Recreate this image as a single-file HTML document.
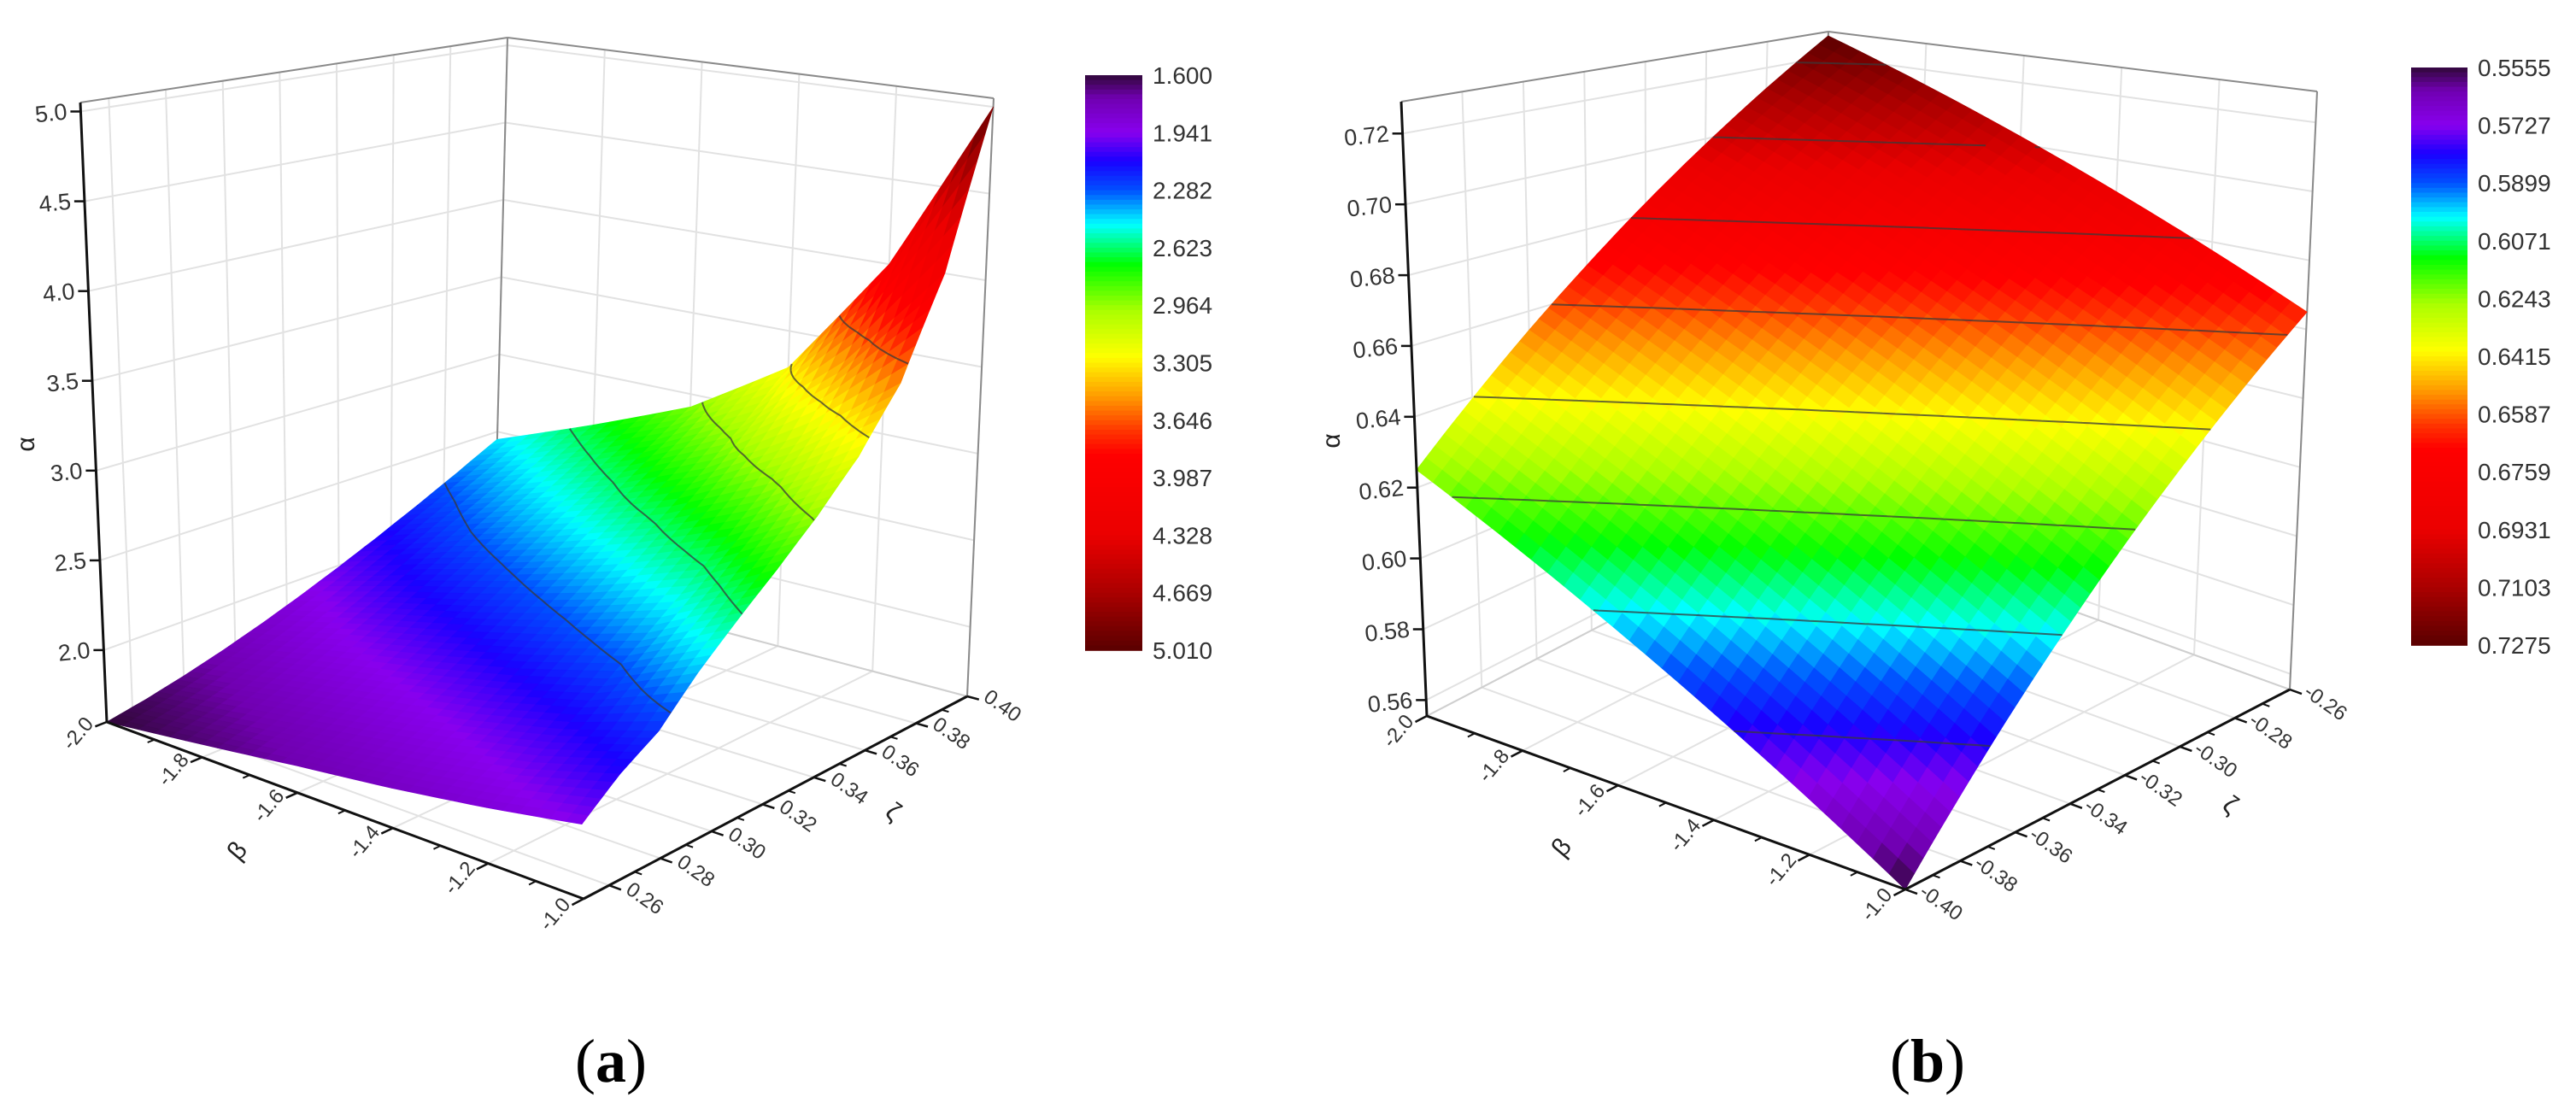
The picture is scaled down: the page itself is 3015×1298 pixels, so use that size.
<!DOCTYPE html>
<html><head><meta charset="utf-8"><style>
html,body{margin:0;padding:0;background:#fff;}
svg{display:block;}
text{font-family:"Liberation Sans",sans-serif;}
</style></head><body>
<svg id="fig" width="3015" height="1298" viewBox="0 0 3015 1298" xmlns="http://www.w3.org/2000/svg">
<g id="panelA"></g>
<g id="panelB"></g>
<text x="715" y="1266" text-anchor="middle" style="font-family:'Liberation Serif',serif;font-size:72px;">(<tspan font-weight="bold">a</tspan>)</text>
<text x="2256" y="1266" text-anchor="middle" style="font-family:'Liberation Serif',serif;font-size:72px;">(<tspan font-weight="bold">b</tspan>)</text>
</svg>
<script>
// ---------- Panel (a) data ----------
const betaA = [-2.0, -1.8, -1.6, -1.4, -1.2, -1.0];
const zetaA = [0.25, 0.265, 0.28, 0.295, 0.31, 0.325, 0.34, 0.355, 0.37, 0.385, 0.40];
const zA = [
  [1.60,1.64,1.69,1.75,1.82,1.90,1.99,2.09,2.20,2.32,2.45],
  [1.67,1.72,1.79,1.87,1.96,2.06,2.17,2.29,2.41,2.54,2.68],
  [1.74,1.80,1.88,1.97,2.08,2.20,2.33,2.47,2.61,2.76,2.92],
  [1.80,1.88,1.97,2.08,2.21,2.35,2.50,2.66,2.84,3.04,3.28],
  [1.87,1.97,2.08,2.21,2.36,2.52,2.70,2.90,3.15,3.50,4.00],
  [1.95,2.10,2.22,2.42,2.60,2.78,2.98,3.22,3.55,4.10,5.00]
];
const zTicksA = [2.0, 2.5, 3.0, 3.5, 4.0, 4.5, 5.0];
const zTickLabelsA = ["2.0","2.5","3.0","3.5","4.0","4.5","5.0"];
const bTicksA = [-2.0,-1.8,-1.6,-1.4,-1.2,-1.0];
const bTickLabelsA = ["-2.0","-1.8","-1.6","-1.4","-1.2","-1.0"];
const zetaTicksA = [0.26,0.28,0.30,0.32,0.34,0.36,0.38,0.40];
const zetaTickLabelsA = ["0.26","0.28","0.30","0.32","0.34","0.36","0.38","0.40"];
const contourLevelsA = [2.282, 2.623, 2.964, 3.305, 3.646];
const cbarLabelsA = ["1.600","1.941","2.282","2.623","2.964","3.305","3.646","3.987","4.328","4.669","5.010"];

// ---------- Panel (b) data ----------
const betaB = [-2.0, -1.8, -1.6, -1.4, -1.2, -1.0];
const zetaB = [-0.40, -0.38, -0.36, -0.34, -0.32, -0.30, -0.28, -0.26];
const zB = [
  [0.6250,0.6396,0.6543,0.6689,0.6836,0.6982,0.7129,0.7275],
  [0.6111,0.6259,0.6408,0.6556,0.6705,0.6853,0.7002,0.7150],
  [0.5972,0.6122,0.6273,0.6423,0.6574,0.6724,0.6875,0.7025],
  [0.5833,0.5985,0.6138,0.6290,0.6443,0.6595,0.6748,0.6900],
  [0.5694,0.5848,0.6003,0.6157,0.6312,0.6466,0.6621,0.6775],
  [0.5555,0.5711,0.5868,0.6024,0.6181,0.6337,0.6494,0.6650]
];
const zTicksB = [0.56,0.58,0.60,0.62,0.64,0.66,0.68,0.70,0.72];
const zTickLabelsB = ["0.56","0.58","0.60","0.62","0.64","0.66","0.68","0.70","0.72"];
const bTicksB = [-2.0,-1.8,-1.6,-1.4,-1.2,-1.0];
const bTickLabelsB = ["-2.0","-1.8","-1.6","-1.4","-1.2","-1.0"];
const zetaTicksB = [-0.40,-0.38,-0.36,-0.34,-0.32,-0.30,-0.28,-0.26];
const zetaTickLabelsB = ["-0.40","-0.38","-0.36","-0.34","-0.32","-0.30","-0.28","-0.26"];
const contourLevelsB = [0.58,0.60,0.62,0.64,0.66,0.68,0.70,0.72];
const cbarLabelsB = ["0.5555","0.5727","0.5899","0.6071","0.6243","0.6415","0.6587","0.6759","0.6931","0.7103","0.7275"];

const NS = "http://www.w3.org/2000/svg";
const STOPS = [[0,[48,8,56]],[0.04,[112,0,176]],[0.1,[136,0,238]],[0.15,[26,0,255]],[0.2,[0,80,255]],[0.26,[0,255,255]],[0.33,[0,255,0]],[0.41,[170,255,0]],[0.49,[255,255,0]],[0.56,[255,153,0]],[0.62,[255,51,0]],[0.66,[255,0,0]],[0.8,[235,0,0]],[0.9,[170,0,0]],[1,[90,0,0]]];
function cmap(t){
  t=Math.max(0,Math.min(1,t));
  for(let i=1;i<STOPS.length;i++){
    if(t<=STOPS[i][0]){
      const a=STOPS[i-1],b=STOPS[i],f=(t-a[0])/(b[0]-a[0]);
      const c=a[1].map((v,k)=>Math.round(v+(b[1][k]-v)*f));
      return "rgb("+c.join(",")+")";
    }
  }
  return "rgb(90,0,0)";
}
function mk(tag,attrs,parent){
  const e=document.createElementNS(NS,tag);
  for(const k in attrs) e.setAttribute(k,attrs[k]);
  parent.appendChild(e); return e;
}

function drawPanel(cfg){
  const g=cfg.group;
  const C=cfg.corners;
  function P(u,v,w){
    const bl=(k)=>C.L[k]*(1-u)*(1-v)+C.F[k]*u*(1-v)+C.R[k]*u*v+C.B[k]*(1-u)*v;
    const tl=(k)=>C.Lt[k]*(1-u)*(1-v)+C.Ft[k]*u*(1-v)+C.Rt[k]*u*v+C.Bt[k]*(1-u)*v;
    return [bl(0)+(tl(0)-bl(0))*w, bl(1)+(tl(1)-bl(1))*w];
  }
  const U=(b)=>(b-cfg.bMin)/(cfg.bMax-cfg.bMin);
  const V=(z)=>(z-cfg.zeMin)/(cfg.zeMax-cfg.zeMin);
  const W=(a)=>(a-cfg.aMin)/(cfg.aMax-cfg.aMin);
  const CT=(a)=>(a-cfg.cMin)/(cfg.cMax-cfg.cMin);
  const pts=(arr)=>arr.map(p=>p[0].toFixed(1)+","+p[1].toFixed(1)).join(" ");
  const line=(p,q,st,wd,name)=>{
    const e=mk("line",{x1:p[0].toFixed(1),y1:p[1].toFixed(1),x2:q[0].toFixed(1),y2:q[1].toFixed(1),stroke:st,"stroke-width":wd},g);
    
    
    return e;
  };
  const grid="#e2e2e2";
  cfg.zeTicks.forEach(z=>{const v=V(z);line(P(0,v,0),P(0,v,1),grid,2,"gridline-left-wall");line(P(0,v,0),P(1,v,0),grid,2,"gridline-floor");});
  cfg.bTicks.forEach(b=>{const u=U(b);line(P(u,1,0),P(u,1,1),grid,2,"gridline-right-wall");line(P(u,0,0),P(u,1,0),grid,2,"gridline-floor");});
  cfg.zTicks.forEach(a=>{const w=W(a);line(P(0,0,w),P(0,1,w),grid,2,"gridline-left-wall");line(P(0,1,w),P(1,1,w),grid,2,"gridline-right-wall");});
  const edge="#8a8a8a";
  line(P(0,0,1),P(0,1,1),edge,2,"box-edge");
  line(P(0,1,1),P(1,1,1),edge,2,"box-edge");
  line(P(0,1,0),P(0,1,1),edge,2,"box-edge");
  line(P(1,1,0),P(1,1,1),edge,2,"box-edge");
  line(P(0,0,0),P(0,1,0),"#cfcfcf",2,"box-edge");
  line(P(0,1,0),P(1,1,0),"#cfcfcf",2,"box-edge");

  const surf=mk("g",{},g);
  
  
  const bs=cfg.beta, zs=cfg.zeta, Z=cfg.z, n=6;
  const quads=[];
  const fine=[];
  const NI=(bs.length-1)*n, NJ=(zs.length-1)*n;
  for(let I=0;I<=NI;I++){
    fine.push([]);
    for(let J=0;J<=NJ;J++){
      const i=Math.min(Math.floor(I/n),bs.length-2), j=Math.min(Math.floor(J/n),zs.length-2);
      const fu=(I-i*n)/n, fv=(J-j*n)/n;
      const z=Z[i][j]*(1-fu)*(1-fv)+Z[i+1][j]*fu*(1-fv)+Z[i+1][j+1]*fu*fv+Z[i][j+1]*(1-fu)*fv;
      const b=bs[i]+(bs[i+1]-bs[i])*fu, ze=zs[j]+(zs[j+1]-zs[j])*fv;
      fine[I].push({u:U(b),v:V(ze),z:z,p:P(U(b),V(ze),W(z))});
    }
  }
  for(let I=0;I<NI;I++)for(let J=0;J<NJ;J++){
    const a=fine[I][J],b=fine[I+1][J],c=fine[I+1][J+1],d=fine[I][J+1];
    quads.push({depth:(1-(a.u+c.u)/2)+(a.v+c.v)/2,p:[a.p,b.p,c.p,d.p],z:(a.z+b.z+c.z+d.z)/4});
  }
  quads.sort((x,y)=>y.depth-x.depth);
  quads.forEach(q=>{
    const col=cmap(CT(q.z));
    const e=mk("polygon",{points:pts(q.p),fill:col,stroke:col,"stroke-width":0.7,"stroke-linejoin":"round"},surf);
    
    
  });
  const cg=mk("g",{stroke:"#3a3a3a","stroke-width":2,"stroke-opacity":0.75,fill:"none"},g);
  
  
  cfg.levels.forEach(L=>{
    let d="";
    for(let I=0;I<NI;I++)for(let J=0;J<NJ;J++){
      const c=[fine[I][J],fine[I+1][J],fine[I+1][J+1],fine[I][J+1]];
      const cr=[];
      for(let k=0;k<4;k++){
        const a=c[k],b=c[(k+1)%4];
        if((a.z-L)*(b.z-L)<0){const f=(L-a.z)/(b.z-a.z);cr.push([a.p[0]+(b.p[0]-a.p[0])*f,a.p[1]+(b.p[1]-a.p[1])*f]);}
      }
      for(let k=0;k+1<cr.length;k+=2) d+="M"+cr[k][0].toFixed(1)+" "+cr[k][1].toFixed(1)+"L"+cr[k+1][0].toFixed(1)+" "+cr[k+1][1].toFixed(1);
    }
    if(d){const e=mk("path",{d:d},cg);
      
      }
  });

  line(P(0,0,0),P(0,0,1),"#111",3,"z-axis-line");
  line(P(0,0,0),P(1,0,0),"#111",3,"beta-axis-line");
  line(P(1,0,0),P(1,1,0),"#111",3,"zeta-axis-line");
  const tf="#333";
  cfg.zTicks.forEach((a,k)=>{
    const p=P(0,0,W(a));
    line(p,[p[0]-12,p[1]],"#111",2.5,"z-tick");
    const t=mk("text",{x:(p[0]-16).toFixed(1),y:(p[1]+9).toFixed(1),"text-anchor":"end","font-size":27,fill:tf,transform:"rotate(-6 "+(p[0]-16).toFixed(1)+" "+p[1].toFixed(1)+")"},g);
    t.textContent=cfg.zLabels[k];
    
    
  });
  cfg.bTicks.forEach((b,k)=>{
    const u=U(b), p=P(u,0,0), q=P(u,-0.03,0);
    line(p,q,"#111",2.5,"beta-tick");
    if(k<cfg.bTicks.length-1){const m=P(u+0.1,0,0),m2=P(u+0.1,-0.018,0);line(m,m2,"#111",2,"beta-minor-tick");}
    const l=P(u,-0.075,0);
    const t=mk("text",{x:l[0].toFixed(1),y:(l[1]+8).toFixed(1),"text-anchor":"middle","font-size":24,fill:tf,transform:"rotate(-50 "+l[0].toFixed(1)+" "+l[1].toFixed(1)+")"},g);
    t.textContent=cfg.bLabels[k];
    
    
  });
  cfg.zeTicks.forEach((z,k)=>{
    const v=V(z), p=P(1,v,0), q=P(1.025,v,0);
    line(p,q,"#111",2.5,"zeta-tick");
    if(k<cfg.zeTicks.length-1){const vv=V(z+(cfg.zeTicks[1]-cfg.zeTicks[0])/2);line(P(1,vv,0),P(1.015,vv,0),"#111",2,"zeta-minor-tick");}
    const l=P(1.075,v,0);
    const t=mk("text",{x:l[0].toFixed(1),y:(l[1]+8).toFixed(1),"text-anchor":"middle","font-size":24,fill:tf,transform:"rotate(35 "+l[0].toFixed(1)+" "+l[1].toFixed(1)+")"},g);
    t.textContent=cfg.zeLabels[k];
    
    
  });
  const at=(txt,x,y,rot,name)=>{const t=mk("text",{x:x,y:y,"text-anchor":"middle","font-size":30,fill:"#222",transform:"rotate("+rot+" "+x+" "+y+")"},g);t.textContent=txt;
    
    };
  at("α",cfg.aTitle[0],cfg.aTitle[1],-90,"z-axis-title");
  at("β",cfg.bTitle[0],cfg.bTitle[1],-50,"beta-axis-title");
  at("ζ",cfg.zeTitle[0],cfg.zeTitle[1],35,"zeta-axis-title");

  const cb=cfg.cbar;
  const cbg=mk("g",{},g);
  
  
  const N=120;
  for(let i=0;i<N;i++){
    const y=cb.y+cb.h*i/N;
    const e=mk("rect",{x:cb.x,y:y.toFixed(2),width:cb.w,height:(cb.h/N+0.8).toFixed(2),fill:cmap((i+0.5)/N)},cbg);
    
    
  }
  cfg.cbarLabels.forEach((s,k)=>{
    const y=cb.y+cb.h*k/(cfg.cbarLabels.length-1);
    const t=mk("text",{x:cb.x+cb.w+12,y:(y+10).toFixed(1),"font-size":28,fill:"#333"},cbg);
    t.textContent=s;
    
    
  });
}

drawPanel({
  group:document.getElementById("panelA"),
  corners:{L:[125,845],F:[683,1052],R:[1132,815],B:[578,668],Lt:[94,120],Ft:[663,191],Rt:[1163,115],Bt:[594,44]},
  bMin:-2,bMax:-1,zeMin:0.25,zeMax:0.40,aMin:1.6,aMax:5.05,cMin:1.6,cMax:5.01,
  beta:betaA,zeta:zetaA,z:zA,levels:contourLevelsA,
  zTicks:zTicksA,zLabels:zTickLabelsA,bTicks:bTicksA,bLabels:bTickLabelsA,zeTicks:zetaTicksA,zeLabels:zetaTickLabelsA,
  aTitle:[40,520],bTitle:[285,1002],zeTitle:[1040,958],
  cbar:{x:1270,y:88,w:67,h:673},cbarLabels:cbarLabelsA
});
drawPanel({
  group:document.getElementById("panelB"),
  corners:{L:[1670,838],F:[2230,1041],R:[2680,807],B:[2120,604],Lt:[1640,119],Ft:[2212,189],Rt:[2712,107],Bt:[2140,37]},
  bMin:-2,bMax:-1,zeMin:-0.40,zeMax:-0.26,aMin:0.5555,aMax:0.729,cMin:0.5555,cMax:0.7275,
  beta:betaB,zeta:zetaB,z:zB,levels:contourLevelsB,
  zTicks:zTicksB,zLabels:zTickLabelsB,bTicks:bTicksB,bLabels:bTickLabelsB,zeTicks:zetaTicksB,zeLabels:zetaTickLabelsB,
  aTitle:[1568,516],bTitle:[1835,998],zeTitle:[2605,950],
  cbar:{x:2822,y:79,w:66,h:676},cbarLabels:cbarLabelsB
});
</script>
</body></html>
